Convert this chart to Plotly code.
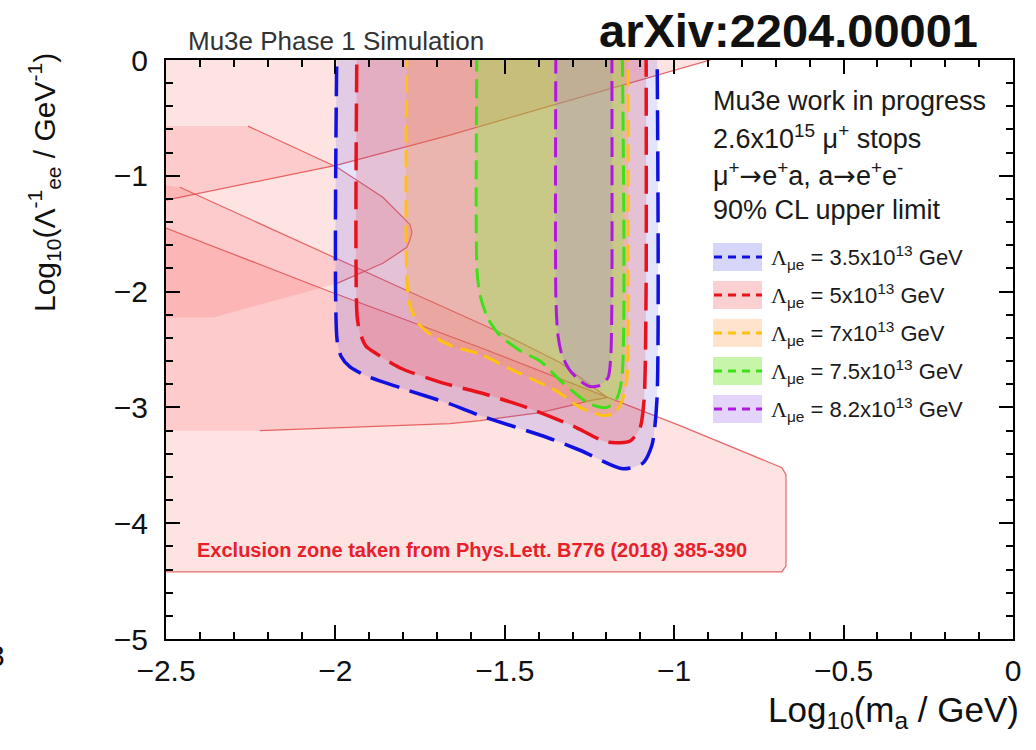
import plotly.graph_objects as go

# ---------------- data ----------------
# Mu3e sensitivity contours (x = log10(m_a/GeV), y = log10(1/Lambda_ee / GeV^-1))
lam_labels = ["3.5", "5", "7", "7.5", "8.2"]

blue_x = [-1.995, -1.995, -1.983, -1.957, -1.907, -1.809, -1.662, -1.573, -1.375, -1.278, -1.151, -1.092, -1.066, -1.051, -1.051]
blue_y = [0.3, -2.42, -2.56, -2.65, -2.73, -2.83, -2.97, -3.07, -3.26, -3.37, -3.53, -3.48, -3.33, -2.94, 0.3]

red_x = [-1.936, -1.936, -1.927, -1.910, -1.877, -1.809, -1.682, -1.564, -1.426, -1.299, -1.198, -1.130, -1.101, -1.089, -1.083, -1.083]
red_y = [0.3, -2.21, -2.36, -2.47, -2.54, -2.66, -2.79, -2.88, -3.01, -3.16, -3.30, -3.29, -3.18, -2.94, -2.0, 0.3]

yellow_x = [-1.789, -1.789, -1.780, -1.756, -1.715, -1.656, -1.573, -1.476, -1.346, -1.278, -1.210, -1.175, -1.151, -1.139, -1.136, -1.136]
yellow_y = [0.3, -1.90, -2.12, -2.27, -2.38, -2.47, -2.54, -2.68, -2.86, -3.00, -3.07, -3.05, -2.92, -2.74, -1.7, 0.3]

green_x = [-1.582, -1.582, -1.573, -1.550, -1.514, -1.455, -1.396, -1.328, -1.249, -1.198, -1.169, -1.154, -1.154]
green_y = [0.3, -1.82, -2.03, -2.23, -2.38, -2.51, -2.60, -2.79, -2.97, -3.00, -2.92, -2.74, 0.3]

purple_x = [-1.349, -1.349, -1.343, -1.331, -1.308, -1.278, -1.249, -1.219, -1.195, -1.187, -1.184, -1.184]
purple_y = [0.3, -2.08, -2.38, -2.55, -2.68, -2.77, -2.82, -2.81, -2.74, -2.55, -2.08, 0.3]

# Exclusion zones (Phys.Lett. B776 (2018) 385-390)
excl_top_x = [-2.6, -2.6, -1.995, -1.662, -1.337, -0.894, -0.894]
excl_top_y = [0.3, -1.27, -0.908, -0.649, -0.372, 0.0, 0.3]

excl_nose_x = [-2.6, -2.258, -1.995, -1.860, -1.800, -1.780, -1.774, -1.780, -1.789, -1.860, -1.995, -2.361, -2.6]
excl_nose_y = [-0.571, -0.571, -0.926, -1.185, -1.358, -1.42, -1.488, -1.555, -1.618, -1.756, -1.929, -2.223, -2.223]

excl_mid_x = [-2.6, -2.459, -2.104, -1.809, -1.514, -1.337, -1.198, -1.249, -1.308, -1.396, -1.573, -1.662, -2.223, -2.6]
excl_mid_y = [-1.04, -1.099, -1.574, -1.964, -2.353, -2.612, -2.915, -2.941, -2.984, -3.045, -3.114, -3.140, -3.201, -3.201]

excl_low_x = [-2.6, -2.5, -2.025, -1.573, -0.983, -0.717, -0.682, -0.670, -0.670, -0.682, -2.6]
excl_low_y = [-1.339, -1.453, -1.990, -2.483, -3.157, -3.478, -3.521, -3.581, -4.369, -4.420, -4.420]

# ---------------- styles ----------------
W, H = 1036, 750
ML, MR, MT, MB = 166, 23, 60, 111
PW, PH = W - ML - MR, H - MT - MB


def px(xp):
    return (xp - ML) / PW


def py(yp):
    return (H - MB - yp) / PH


EXCL_FILL = "rgba(245,70,70,0.15)"
EXCL_LINE = "rgba(225,80,80,0.85)"

contours = [
    (blue_x, blue_y, "#1010e0", "rgba(70,70,235,0.15)", "30px,11px", 3.5),
    (red_x, red_y, "#e8121c", "rgba(240,60,60,0.20)", "28px,11px", 3.5),
    (yellow_x, yellow_y, "#ffc20e", "rgba(255,140,40,0.22)", "17px,8px", 3),
    (green_x, green_y, "#3ee01a", "rgba(110,255,30,0.28)", "19px,8px", 3),
    (purple_x, purple_y, "#b018e0", "rgba(160,110,255,0.20)", "20px,8px", 3),
]
legend_patch = ["rgba(70,70,235,0.22)", "rgba(240,60,60,0.24)", "rgba(255,140,40,0.24)",
                "rgba(100,230,20,0.36)", "rgba(150,90,240,0.26)"]

fig = go.Figure()


def add_fill(xs, ys, with_line):
    fig.add_trace(go.Scatter(
        x=xs, y=ys, mode="lines", fill="toself", fillcolor=EXCL_FILL,
        line=dict(color=EXCL_LINE if with_line else "rgba(0,0,0,0)", width=1.2 if with_line else 0),
        hoverinfo="skip", showlegend=False))


def add_edge(xs, ys):
    fig.add_trace(go.Scatter(
        x=xs, y=ys, mode="lines", line=dict(color=EXCL_LINE, width=1.2),
        hoverinfo="skip", showlegend=False))


add_fill(excl_top_x, excl_top_y, True)
add_fill(excl_nose_x, excl_nose_y, False)
add_edge(excl_nose_x[1:-2], excl_nose_y[1:-2])
add_fill(excl_mid_x, excl_mid_y, False)
add_edge(excl_mid_x[1:-1], excl_mid_y[1:-1])
add_fill(excl_low_x, excl_low_y, True)

for xs, ys, lc, fc, dash, lw in contours:
    fig.add_trace(go.Scatter(
        x=xs, y=ys, mode="lines", fill="toself", fillcolor=fc,
        line=dict(color=lc, width=lw, dash=dash, shape="spline", smoothing=0.7),
        hoverinfo="skip", showlegend=False))

TXT = "Liberation Sans"
ARROW = "<span style='font-family:DejaVu Sans'>→</span>"
annotations = []

# top texts
annotations.append(dict(text="Mu3e Phase 1 Simulation", x=px(186), y=py(41), xref="paper", yref="paper",
                        xanchor="left", yanchor="middle", showarrow=False,
                        font=dict(family=TXT, size=26, color="#333333")))
annotations.append(dict(text="<b>arXiv:2204.00001</b>", x=px(597), y=py(31), xref="paper", yref="paper",
                        xanchor="left", yanchor="middle", showarrow=False,
                        font=dict(family=TXT, size=47, color="#111111")))

info_lines = [
    "Mu3e work in progress",
    "2.6x10<sup>15</sup> μ<sup>+</sup> stops",
    "μ<sup>+</sup>" + ARROW + "e<sup>+</sup>a, a" + ARROW + "e<sup>+</sup>e<sup>-</sup>",
    "90% CL upper limit",
]
info_y = [101, 137, 174, 210]
for t, yy in zip(info_lines, info_y):
    annotations.append(dict(text=t, x=px(711), y=py(yy), xref="paper", yref="paper",
                            xanchor="left", yanchor="middle", showarrow=False,
                            font=dict(family=TXT, size=27, color="#1a1a1a")))

# manual legend
shapes = []
row0, step = 257, 38
for i, (lab, c) in enumerate(zip(lam_labels, contours)):
    yc = row0 + i * step
    lc = c[2]
    shapes.append(dict(type="rect", xref="paper", yref="paper",
                       x0=px(713), x1=px(762), y0=py(yc + 14), y1=py(yc - 14),
                       fillcolor=legend_patch[i], line=dict(width=0), layer="above"))
    shapes.append(dict(type="line", xref="paper", yref="paper",
                       x0=px(714), x1=px(762), y0=py(yc), y1=py(yc),
                       line=dict(color=lc, width=3, dash="8px,6px"), layer="above"))
    annotations.append(dict(
        text="<span style='font-family:Liberation Serif'>Λ</span><sub>μe</sub> = " + lab + "x10<sup>13</sup> GeV",
        x=px(769), y=py(yc), xref="paper", yref="paper", xanchor="left", yanchor="middle",
        showarrow=False, font=dict(family=TXT, size=22, color="#1a1a1a")))

# exclusion note
annotations.append(dict(text="<b>Exclusion zone taken from Phys.Lett. B776 (2018) 385-390</b>",
                        x=px(195), y=py(550), xref="paper", yref="paper", xanchor="left", yanchor="middle",
                        showarrow=False, font=dict(family=TXT, size=20, color="#e8202a")))

# axis titles
annotations.append(dict(text="Log<sub>10</sub>(m<sub>a</sub> / GeV)", x=px(1021), y=py(712),
                        xref="paper", yref="paper", xanchor="right", yanchor="middle", showarrow=False,
                        font=dict(family=TXT, size=35, color="#111111")))
annotations.append(dict(text="Log<sub>10</sub>(Λ<sup>-1</sup><sub>ee</sub> / GeV<sup>-1</sup>)", x=px(44), y=py(183),
                        xref="paper", yref="paper", xanchor="center", yanchor="middle", showarrow=False,
                        textangle=-90, font=dict(family=TXT, size=30, color="#111111")))
annotations.append(dict(text="3", x=px(7), y=py(655), xref="paper", yref="paper", xanchor="right",
                        yanchor="middle", showarrow=False, font=dict(family=TXT, size=30, color="#111111")))

axis_common = dict(showline=True, linecolor="black", linewidth=2, mirror="allticks",
                   ticks="inside", tickcolor="black", tickwidth=1.5, ticklen=14,
                   showgrid=False, zeroline=False,
                   tickfont=dict(family=TXT, size=30, color="#111111"))

fig.update_layout(
    width=W, height=H, margin=dict(l=ML, r=MR, t=MT, b=MB),
    paper_bgcolor="white", plot_bgcolor="white",
    showlegend=False, annotations=annotations, shapes=shapes,
    xaxis=dict(range=[-2.5, 0], dtick=0.5, tick0=0, ticklabelstandoff=4,
               minor=dict(dtick=0.1, ticks="inside", ticklen=7, tickcolor="black", tickwidth=1.5),
               **axis_common),
    yaxis=dict(range=[-5, 0], dtick=1, tick0=0, ticklabelstandoff=10,
               minor=dict(dtick=0.2, ticks="inside", ticklen=7, tickcolor="black", tickwidth=1.5),
               **axis_common),
)

fig.write_html("out.html")
